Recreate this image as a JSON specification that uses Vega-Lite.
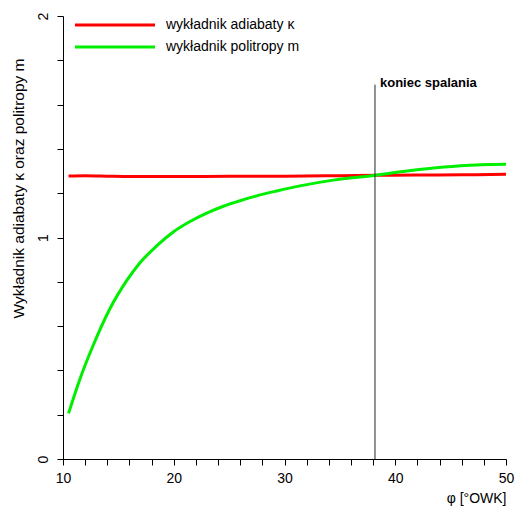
{
  "$schema": "https://vega.github.io/schema/vega-lite/v6.json",
  "width": 443,
  "height": 443,
  "autosize": {"type": "none"},
  "padding": {"left": 63, "top": 16, "right": 11, "bottom": 47},
  "background": "white",
  "config": {
    "view": {"stroke": null},
    "font": "Liberation Sans",
    "axis": {"grid": false, "labelOverlap": false, "domainColor": "black", "tickColor": "black", "labelColor": "black", "titleColor": "black", "labelFont": "Liberation Sans", "titleFont": "Liberation Sans", "titleFontWeight": "normal", "tickSize": 6, "labelFontSize": 14, "titleFontSize": 14}
  },
  "datasets": {
    "curves": [
      {"phi": 10.5, "value": 1.278, "series": "wykładnik adiabaty κ"},
      {"phi": 12, "value": 1.279, "series": "wykładnik adiabaty κ"},
      {"phi": 14, "value": 1.277, "series": "wykładnik adiabaty κ"},
      {"phi": 16, "value": 1.275, "series": "wykładnik adiabaty κ"},
      {"phi": 18, "value": 1.275, "series": "wykładnik adiabaty κ"},
      {"phi": 20, "value": 1.275, "series": "wykładnik adiabaty κ"},
      {"phi": 25, "value": 1.276, "series": "wykładnik adiabaty κ"},
      {"phi": 30, "value": 1.277, "series": "wykładnik adiabaty κ"},
      {"phi": 35, "value": 1.279, "series": "wykładnik adiabaty κ"},
      {"phi": 38.2, "value": 1.281, "series": "wykładnik adiabaty κ"},
      {"phi": 42, "value": 1.282, "series": "wykładnik adiabaty κ"},
      {"phi": 46, "value": 1.283, "series": "wykładnik adiabaty κ"},
      {"phi": 50, "value": 1.285, "series": "wykładnik adiabaty κ"},
      {"phi": 10.5, "value": 0.206, "series": "wykładnik politropy m"},
      {"phi": 11.5, "value": 0.357, "series": "wykładnik politropy m"},
      {"phi": 12.7, "value": 0.510, "series": "wykładnik politropy m"},
      {"phi": 14.2, "value": 0.675, "series": "wykładnik politropy m"},
      {"phi": 15.75, "value": 0.805, "series": "wykładnik politropy m"},
      {"phi": 16.95, "value": 0.886, "series": "wykładnik politropy m"},
      {"phi": 18.46, "value": 0.962, "series": "wykładnik politropy m"},
      {"phi": 19.96, "value": 1.025, "series": "wykładnik politropy m"},
      {"phi": 21.47, "value": 1.072, "series": "wykładnik politropy m"},
      {"phi": 22.98, "value": 1.110, "series": "wykładnik politropy m"},
      {"phi": 24.48, "value": 1.141, "series": "wykładnik politropy m"},
      {"phi": 25.98, "value": 1.166, "series": "wykładnik politropy m"},
      {"phi": 27.49, "value": 1.188, "series": "wykładnik politropy m"},
      {"phi": 29.3, "value": 1.210, "series": "wykładnik politropy m"},
      {"phi": 31.4, "value": 1.233, "series": "wykładnik politropy m"},
      {"phi": 34.4, "value": 1.259, "series": "wykładnik politropy m"},
      {"phi": 38.2, "value": 1.281, "series": "wykładnik politropy m"},
      {"phi": 40.7, "value": 1.298, "series": "wykładnik politropy m"},
      {"phi": 43.7, "value": 1.315, "series": "wykładnik politropy m"},
      {"phi": 46.75, "value": 1.326, "series": "wykładnik politropy m"},
      {"phi": 48.5, "value": 1.330, "series": "wykładnik politropy m"},
      {"phi": 50, "value": 1.331, "series": "wykładnik politropy m"}
    ],
    "marker": [{"phi": 38.17, "y0": 0, "y1": 1.69, "label": "koniec spalania"}]
  },
  "layer": [
    {
      "data": {"name": "curves"},
      "mark": {"type": "line", "strokeWidth": 3, "interpolate": "monotone"},
      "encoding": {
        "x": {"field": "phi", "type": "quantitative", "scale": {"domain": [10, 50], "nice": false, "zero": false},
          "axis": {"title": "φ [°OWK]", "titleAnchor": "end", "titlePadding": 6, "tickCount": 30, "values": [10,12,14,16,18,20,22,24,26,28,30,32,34,36,38,40,42,44,46,48,50],
            "labelExpr": "datum.value % 10 == 0 ? datum.label : ''", "labelOverlap": false, "labelPadding": 6, "labelFlush": false}},
        "y": {"field": "value", "type": "quantitative", "scale": {"domain": [0, 2], "nice": false},
          "axis": {"title": "Wykładnik adiabaty κ oraz politropy m", "titleFontSize": 15.5, "titleAngle": -90, "titleX": -45, "titleY": 172, "titleAlign": "center", "titleBaseline": "middle",
            "tickCount": 20, "values": [0,0.2,0.4,0.6,0.8,1,1.2,1.4,1.6,1.8,2],
            "labelExpr": "abs(datum.value - round(datum.value)) < 0.000001 ? format(datum.value, 'd') : ''", "labelOverlap": false,
            "labelAngle": -90, "labelAlign": "center", "labelBaseline": "bottom", "labelPadding": 7}},
        "color": {"field": "series", "type": "nominal",
          "scale": {"domain": ["wykładnik adiabaty κ", "wykładnik politropy m"], "range": ["#ff0000", "#00ee00"]},
          "legend": {"title": null, "orient": "none", "legendX": 45, "legendY": 2, "symbolType": "M-10,0H10", "symbolSize": 64, "symbolStrokeWidth": 3, "labelFontSize": 14, "labelFont": "Liberation Sans", "labelColor": "black", "labelOffset": 44, "rowPadding": 8}}
      }
    },
    {
      "data": {"name": "marker"},
      "mark": {"type": "rule", "color": "#222222", "strokeWidth": 1},
      "encoding": {
        "x": {"field": "phi", "type": "quantitative"},
        "y": {"field": "y0", "type": "quantitative"},
        "y2": {"field": "y1"}
      }
    },
    {
      "data": {"name": "marker"},
      "mark": {"type": "text", "align": "left", "baseline": "middle", "dx": 5, "dy": -2, "fontWeight": "bold", "fontSize": 13, "font": "Liberation Sans", "color": "black"},
      "encoding": {
        "x": {"field": "phi", "type": "quantitative"},
        "y": {"field": "y1", "type": "quantitative"},
        "text": {"field": "label"}
      }
    }
  ]
}
